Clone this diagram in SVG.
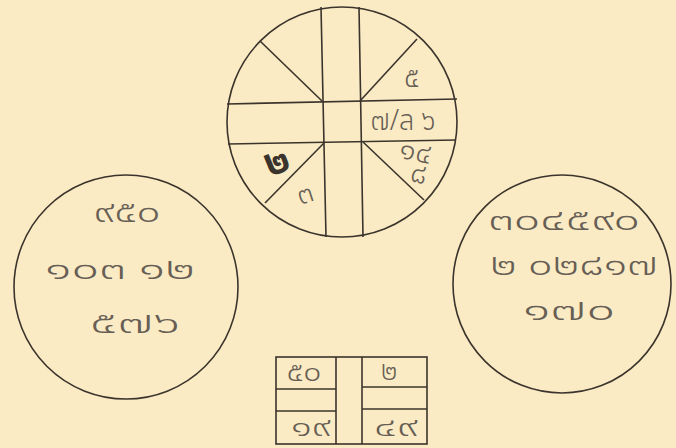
<svg xmlns="http://www.w3.org/2000/svg" width="676" height="448" viewBox="0 0 676 448">
<style>
.ln{fill:none;stroke:#3b342c;stroke-width:1.6}
.t{font-family:"Noto Sans Thai","Noto Serif Thai","Loma","Garuda","Norasi","DejaVu Sans",sans-serif;fill:#675e55;font-size:31px;font-weight:300;text-anchor:middle;dominant-baseline:central}
.s{font-size:29px}
.u{font-size:27px}
</style>
<rect width="676" height="448" fill="#faebc4"/>
<g id="top-chart">
<circle class="ln" cx="342" cy="122" r="115"/>
<line class="ln" x1="321" y1="7" x2="326" y2="237"/>
<line class="ln" x1="359" y1="7" x2="363" y2="237"/>
<line class="ln" x1="227" y1="104" x2="457" y2="99"/>
<line class="ln" x1="228" y1="144" x2="456" y2="140"/>
<line class="ln" x1="260" y1="41" x2="322" y2="101"/>
<line class="ln" x1="360" y1="101" x2="417" y2="39"/>
<line class="ln" x1="363" y1="142" x2="424" y2="200"/>
<line class="ln" x1="324" y1="143" x2="265" y2="203"/>
<text class="t s" x="412" y="78">๕</text>
<text class="t s" x="403" y="121" textLength="65" lengthAdjust="spacingAndGlyphs">๗/ล ๖</text>
<text class="t s" x="416" y="152" textLength="33" lengthAdjust="spacingAndGlyphs" transform="rotate(12 416 152)">๑๔</text>
<text class="t s" x="419" y="174" transform="rotate(12 419 174)">๘</text>
<text class="t" x="277" y="162" style="font-size:38px;font-weight:bold;fill:#3b342c" transform="rotate(-22 277 162)">๒</text>
<text class="t s" x="305" y="194" transform="rotate(-18 305 194)">๓</text>
</g>
<g id="left-circle">
<circle class="ln" cx="126" cy="287" r="112"/>
<text class="t" x="127" y="212" textLength="67" lengthAdjust="spacingAndGlyphs">๙๕๐</text>
<text class="t" x="120" y="269" textLength="150" lengthAdjust="spacingAndGlyphs">๑๐๓ ๑๒</text>
<text class="t" x="135" y="323" textLength="90" lengthAdjust="spacingAndGlyphs">๕๗๖</text>
</g>
<g id="right-circle">
<circle class="ln" cx="562" cy="284" r="109"/>
<text class="t" x="564" y="220" textLength="152" lengthAdjust="spacingAndGlyphs">๓๐๔๕๙๐</text>
<text class="t" x="574" y="265" textLength="168" lengthAdjust="spacingAndGlyphs">๒ ๐๒๘๑๗</text>
<text class="t" x="569" y="310" textLength="92" lengthAdjust="spacingAndGlyphs">๑๗๐</text>
</g>
<g id="bottom-table">
<rect class="ln" x="276" y="357" width="151" height="87"/>
<line class="ln" x1="336" y1="357" x2="336" y2="444"/>
<line class="ln" x1="362" y1="357" x2="362" y2="444"/>
<line class="ln" x1="276" y1="389" x2="336" y2="389"/>
<line class="ln" x1="276" y1="411" x2="336" y2="411"/>
<line class="ln" x1="362" y1="387" x2="427" y2="387"/>
<line class="ln" x1="362" y1="409" x2="427" y2="409"/>
<text class="t u" x="304" y="372" textLength="35" lengthAdjust="spacingAndGlyphs">๕๐</text>
<text class="t u" x="389" y="371">๒</text>
<text class="t u" x="311" y="427" textLength="40" lengthAdjust="spacingAndGlyphs">๑๙</text>
<text class="t u" x="396" y="427" textLength="44" lengthAdjust="spacingAndGlyphs">๔๙</text>
</g>
</svg>
